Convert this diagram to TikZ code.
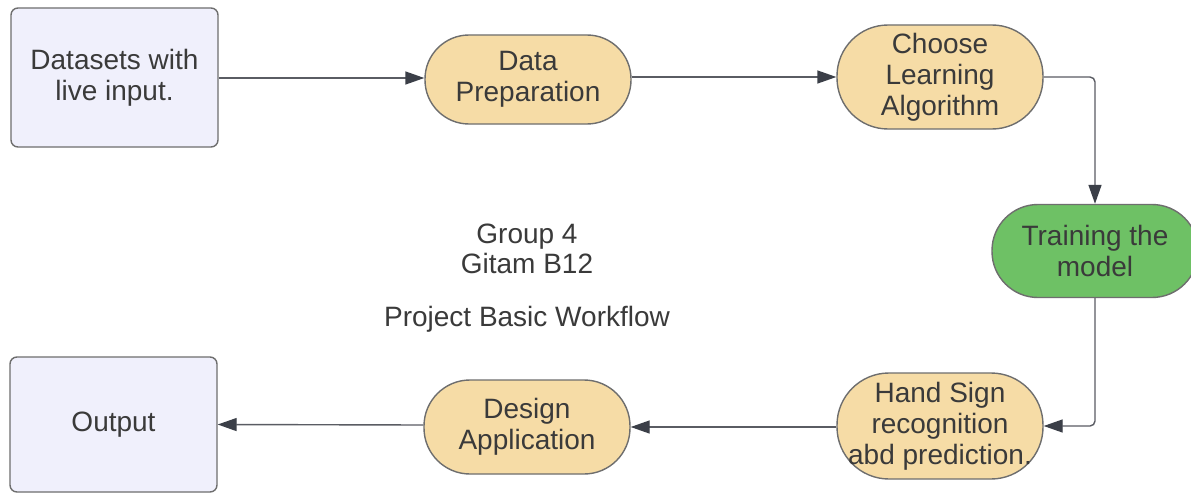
\documentclass[tikz,border=0pt]{standalone}
\usepackage{fontspec}
\setmainfont{Liberation Sans}
\usetikzlibrary{arrows.meta}
\definecolor{txt}{HTML}{3A3A3A}
\definecolor{edge}{HTML}{6E6E6E}
\definecolor{wire}{HTML}{5A5C63}
\definecolor{tipc}{HTML}{3B3F48}
\definecolor{lav}{HTML}{F0F0FC}
\definecolor{sand}{HTML}{F6DCA6}
\definecolor{leaf}{HTML}{6EC165}
\tikzset{
  base/.style={draw=edge, line width=1.4pt, inner sep=0pt, align=center,
    text=txt, font=\fontsize{28}{31}\selectfont},
  io/.style={base, fill=lav, rounded corners=7pt, minimum width=207pt},
  pill/.style={base, fill=sand, minimum width=206pt},
  flow/.style={draw=wire, line width=1.4pt, rounded corners=5pt,
    -{Triangle[length=19pt,width=13pt,fill=tipc,color=tipc]}},
}
\begin{document}
\begin{tikzpicture}[x=1pt,y=-1pt]
\useasboundingbox[fill=white] (0,0) rectangle (1191,495);

% input and output boxes
\node[io, minimum height=139pt] (ds) at (114.5,77.5) {Datasets with\\live input.};
\node[io, minimum height=135pt] (out) at (113.5,424.5) {Output};

% process steps
\node[pill, minimum height=89pt, rounded corners=44pt] (prep) at (528,79.5) {Data\\Preparation};
\node[pill, minimum height=104pt, rounded corners=51pt] (choose) at (940,77) {Choose\\Learning\\Algorithm};
\node[pill, fill=leaf, minimum height=93pt, rounded corners=46pt] (train) at (1095,251) {Training the\\model};
\node[pill, minimum height=106pt, rounded corners=52pt] (hand) at (940,426) {Hand Sign\\recognition\\abd prediction.};
\node[pill, minimum height=94pt, rounded corners=46pt] (design) at (527,427) {Design\\Application};

% caption
\node[text=txt, align=center, font=\fontsize{28}{30}\selectfont] (cap) at (527,278.5)
  {Group 4\\Gitam B12\\[23pt]Project Basic Workflow};

% connectors
\draw[flow] (ds.east |- 0,78) -- (prep.west |- 0,78);
\draw[flow] (prep.east |- 0,77) -- (choose.west);
\draw[flow] (choose.east) -| (train.north);
\draw[flow] (train.south) |- (hand.east);
\draw[flow] (hand.west |- 0,427) -- (design.east);
\draw[flow] (design.west |- 0,425) -- (out.east);
\end{tikzpicture}
\end{document}
